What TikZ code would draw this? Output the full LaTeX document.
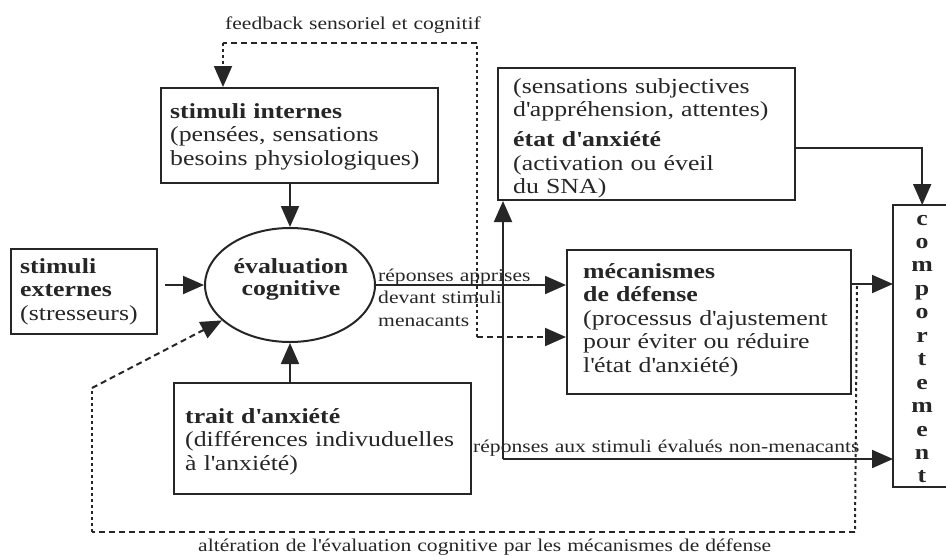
\documentclass[tikz,border=0pt]{standalone}
\usepackage{fontspec}
\setmainfont{Liberation Serif}[FakeStretch=1.2]
\usetikzlibrary{arrows.meta,calc,shapes.geometric}
\newcommand{\aq}{\textquotesingle}
\tikzset{
  ln/.style={line width=2pt, draw=black!85},
  box/.style={draw=black!85, line width=2pt, rectangle, inner sep=0pt, anchor=north west},
  tip/.style={-{Triangle[length=21pt,width=18pt]}},
  arr/.style={ln, tip},
  hdash/.style={ln, dash pattern=on 6pt off 4pt},
  vdot/.style={ln, dash pattern=on 3pt off 3pt},
  txt/.style={text=black!85, inner sep=0pt, anchor=base west, text width=320pt, align=left,
    font=\fontsize{21.5}{23.5}\selectfont},
  stxt/.style={text=black!85, inner sep=0pt, anchor=base west, text width=420pt, align=left,
    font=\fontsize{18}{22.5}\selectfont},
}
\begin{document}
\begin{tikzpicture}[x=1pt,y=-1pt]
\useasboundingbox (0,0) rectangle (946,555);

% boxes
\node[box, minimum width=277pt, minimum height=95pt] (si) at (160,87) {};
\node[box, minimum width=146pt, minimum height=85pt] (se) at (10,248) {};
\node[box, minimum width=297pt, minimum height=111pt] (ta) at (173,382) {};
\node[box, minimum width=297pt, minimum height=132pt] (ea) at (497,67) {};
\node[box, minimum width=284pt, minimum height=144pt] (mec) at (566,249) {};
\node[inner sep=0pt, anchor=north west, minimum width=58pt, minimum height=282pt] (comp) at (893,205) {};
\draw[ln] ($(comp.north west)+(70,0)$) -- (comp.north west) -- (comp.south west) -- ++(70,0);
\node[ellipse, ln, draw, minimum width=170pt, minimum height=114pt, inner sep=0pt] (el) at (290,285) {};

% texts in boxes
\node[txt] (sit) at (170,118) {\textbf{stimuli internes}\\(pensées, sensations\\besoins physiologiques)};
\node[txt] (set) at (20,273) {\textbf{stimuli}\\\textbf{externes}\\(stresseurs)};
\node[txt, anchor=base, text width=200pt, align=center, font=\fontsize{21.5}{22}\selectfont] (elt) at (291,273) {\textbf{évaluation}\\\textbf{cognitive}};
\node[txt] (tat) at (185,423) {\textbf{trait d\aq anxiété}\\(différences indivuduelles\\à l\aq anxiété)};
\node[txt] (eat) at (513,93) {(sensations subjectives\\d\aq appréhension, attentes)\\[6.5pt]\textbf{état d\aq anxiété}\\(activation ou éveil\\du SNA)};
\node[txt] (mect) at (583,278) {\textbf{mécanismes}\\\textbf{de défense}\\(processus d\aq ajustement\\pour éviter ou réduire\\l\aq état d\aq anxiété)};
\node[txt, anchor=base, text width=30pt, align=center, font=\fontsize{21.5}{23.45}\selectfont] (compt) at (922,225)
  {\textbf{c}\\\textbf{o}\\\textbf{m}\\\textbf{p}\\\textbf{o}\\\textbf{r}\\\textbf{t}\\\textbf{e}\\\textbf{m}\\\textbf{e}\\\textbf{n}\\\textbf{t}};

% connector labels
\node[stxt] (fbl) at (225,29) {feedback sensoriel et cognitif};
\node[stxt] (rap) at (378,281) {réponses apprises\\devant stimuli\\menacants};
\node[stxt] (rnm) at (473,452) {réponses aux stimuli évalués non-menacants};
\node[stxt, text width=700pt] (alt) at (198,551) {altération de l\aq évaluation cognitive par les mécanismes de défense};

% solid connectors
\draw[arr] (si.south -| el.north) -- (el.north);
\draw[arr] (ta.north -| el.south) -- (el.south);
\draw[arr] ($(se.east |- el.west)+(7,0)$) -- (el.west);
\draw[arr] (el.east) -- (el.east -| mec.west);
\coordinate (vx) at (503,459);
\draw[arr] (vx) -- (vx |- ea.south);
\draw[arr] (vx) -- (vx -| comp.west);
\coordinate (eo) at ($(ea.north east)+(0,81)$);
\draw[arr] (eo) -| (comp.north);
\coordinate (mo) at ($(mec.north east)+(0,35)$);
\draw[arr] (mo) -- (mo -| comp.west);

% feedback dashed connectors
\coordinate (fb) at (477,337);
\coordinate (fbt) at (477,43);
\coordinate (fbc) at (223,43);
\draw[vdot] (fb) -- (fbt);
\draw[hdash] (fbt) -- (fbc);
\draw[vdot, tip] (fbc) -- (fbc |- si.north);
\draw[hdash, tip] (fb) -- (fb -| mec.west);

% alteration dashed connector
\coordinate (a1) at ($(mo)+(5,2)$);
\coordinate (a2) at (855,532);
\coordinate (a3) at (92,532);
\coordinate (a4) at (92,388);
\draw[vdot] (a1) -- (a2);
\draw[hdash] (a2) -- (a3);
\draw[vdot] (a3) -- (a4);
\draw[hdash, tip] (a4) -- (el);
\end{tikzpicture}
\end{document}
